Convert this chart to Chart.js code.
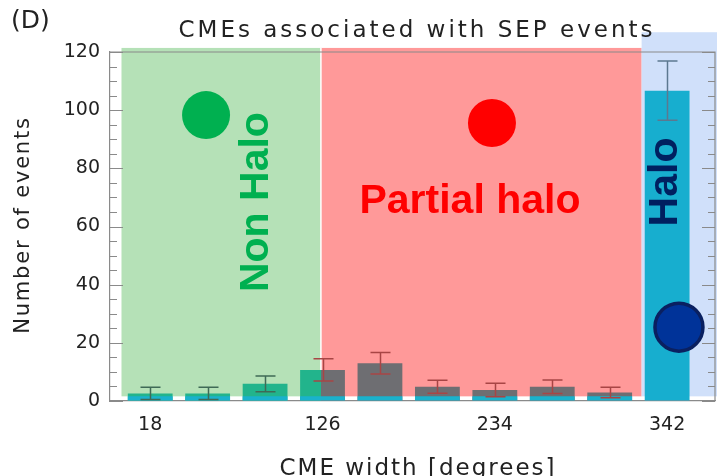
<!DOCTYPE html>
<html>
<head>
<meta charset="utf-8">
<script src="https://cdn.jsdelivr.net/npm/chart.js@4.4.1/dist/chart.umd.min.js"></script>
<style>
html, body { margin: 0; padding: 0; background: #fff; }
#wrap { width: 717px; height: 476px; }
</style>
</head>
<body>
<div id="wrap"><canvas id="chart"></canvas></div>
<script>
// CME width bins (degrees) and SEP-associated event counts
const binCenters = [18, 54, 90, 126, 162, 198, 234, 270, 306, 342]
const eventCounts = [2.6, 2.6, 5.9, 10.7, 13.0, 4.9, 3.8, 4.9, 2.9, 106.7]
const countErrors = [2.1, 2.1, 2.7, 3.8, 3.7, 2.2, 2.3, 2.3, 1.8, 10.2]
const baseCounts = [1.6, 1.6, 1.6, 1.6, 1.6, 1.6, 1.6, 1.6, 1.6, 0]
const xTickValues = [18, 126, 234, 342]
const yTickValues = [0, 20, 40, 60, 80, 100, 120]

const regionNames = ['Non Halo', 'Partial halo', 'Halo']
const regionStart = [0, 125, 326]
const regionEnd = [125, 326, 400]

const FONT = "'DejaVu Sans', sans-serif"
const BOLD = "'Liberation Sans', Arial, sans-serif"

const regionFill = ['rgba(181,225,183,1)', 'rgba(255,153,153,1)', 'rgba(208,224,250,1)']
const barFill = ['#22b48c', '#6e6e72', '#17aecf']
const whiskerColor = ['#3f6a56', '#a84545', '#5c7890']
const barPct = 0.78

function regionOf(v) {
    for (let r = 0; r < regionStart.length; r++) {
        if (v >= regionStart[r] && v < regionEnd[r]) return r
    }
    return regionStart.length - 1
}

// bars that straddle a region border get a hard-stop gradient
function barColor(ctx) {
    const chart = ctx.chart
    const i = ctx.dataIndex
    const c = binCenters[i]
    const half = 36 * barPct / 2
    const lo = c - half, hi = c + half
    const rLo = regionOf(lo), rHi = regionOf(hi)
    if (rLo === rHi || !chart.chartArea) return barFill[regionOf(c)]
    const xs = chart.scales.x
    const x0 = xs.getPixelForValue(lo), x1 = xs.getPixelForValue(hi)
    const g = chart.ctx.createLinearGradient(x0, 0, x1, 0)
    let prev = 0
    for (let r = rLo; r <= rHi; r++) {
        const end = r === rHi ? 1 : (xs.getPixelForValue(regionEnd[r]) - x0) / (x1 - x0)
        g.addColorStop(prev, barFill[r])
        g.addColorStop(end, barFill[r])
        prev = end
    }
    return g
}

const decorPlugin = {
    id: 'decor',
    beforeDatasetsDraw(chart) {
        const {ctx, chartArea: a, scales: {x, y}} = chart
        ctx.save()
        // shaded regions
        const tops = [121.4, 121.4, 126.8]
        for (let r = 0; r < regionNames.length; r++) {
            const x0 = x.getPixelForValue(regionStart[r])
            const x1 = Math.min(chart.width, x.getPixelForValue(regionEnd[r]))
            const y0 = y.getPixelForValue(tops[r])
            const y1 = y.getPixelForValue(1.6)
            ctx.fillStyle = regionFill[r]
            ctx.fillRect(x0, y0, x1 - x0, y1 - y0)
        }
        ctx.strokeStyle = '#ffffff'
        ctx.lineWidth = 1.5
        const xb = x.getPixelForValue(regionEnd[0])
        ctx.beginPath()
        ctx.moveTo(xb, y.getPixelForValue(121.4))
        ctx.lineTo(xb, y.getPixelForValue(1.6))
        ctx.stroke()
        // frame top/right + ticks
        ctx.strokeStyle = '#8a8a8a'
        ctx.lineWidth = 1.2
        ctx.beginPath()
        ctx.moveTo(a.left, a.top)
        ctx.lineTo(a.right, a.top)
        ctx.lineTo(a.right, a.bottom)
        for (let v = 0; v <= 120; v += 5) {
            const py = Math.round(y.getPixelForValue(v)) + 0.5
            const len = v % 20 === 0 ? 13 : 7
            ctx.moveTo(a.left, py)
            ctx.lineTo(a.left + len, py)
            ctx.moveTo(a.right, py)
            ctx.lineTo(a.right - len, py)
        }
        ctx.stroke()
        ctx.restore()
    },
    afterDatasetsDraw(chart) {
        const {ctx, scales: {x, y}} = chart
        const meta = chart.getDatasetMeta(0)
        ctx.save()
        // error bars
        ctx.lineWidth = 1.5
        meta.data.forEach((el, i) => {
            const px = Math.round(el.x) + 0.5
            const yt = y.getPixelForValue(eventCounts[i] + countErrors[i])
            const yb = y.getPixelForValue(Math.max(0, eventCounts[i] - countErrors[i]))
            ctx.strokeStyle = whiskerColor[regionOf(binCenters[i])]
            ctx.beginPath()
            ctx.moveTo(px, yt); ctx.lineTo(px, yb)
            ctx.moveTo(px - 10, yt); ctx.lineTo(px + 10, yt)
            ctx.moveTo(px - 10, yb); ctx.lineTo(px + 10, yb)
            ctx.stroke()
        })

        // region markers
        const dot = (dx, dy, fill, stroke) => {
            ctx.beginPath()
            ctx.arc(x.getPixelForValue(dx), y.getPixelForValue(dy), 24, 0, Math.PI * 2)
            ctx.fillStyle = fill
            ctx.fill()
            if (stroke) { ctx.lineWidth = 3.5; ctx.strokeStyle = stroke; ctx.stroke() }
        }
        dot(53, 98.3, '#00b050')
        dot(232.2, 95.6, '#ff0000')
        dot(349.4, 25.4, '#003399', '#0a2060')

        ctx.textAlign = 'center'
        ctx.textBaseline = 'middle'
        const vlabel = (text, dx, dy, color) => {
            ctx.save()
            ctx.translate(x.getPixelForValue(dx), y.getPixelForValue(dy))
            ctx.rotate(-Math.PI / 2)
            ctx.fillStyle = color
            ctx.font = 'bold 41px ' + BOLD
            ctx.fillText(text, 0, 0)
            ctx.restore()
        }
        vlabel(regionNames[0], 84.9, 68.4, '#00b050')
        vlabel(regionNames[2], 341, 75.3, '#002060')
        ctx.fillStyle = '#ff0000'
        ctx.font = 'bold 41px ' + BOLD
        ctx.fillText(regionNames[1], x.getPixelForValue(218.4), y.getPixelForValue(68.4))

        // titles
        ctx.fillStyle = '#222'
        ctx.font = '23px ' + FONT
        ctx.letterSpacing = '3px'
        ctx.fillText('CMEs associated with SEP events', 417, 31)
        ctx.textAlign = 'left'
        ctx.letterSpacing = '0px'
        ctx.font = '25px ' + FONT
        ctx.fillText('(D)', 11, 21)
        ctx.textAlign = 'center'
        ctx.textBaseline = 'alphabetic'
        ctx.font = '23px ' + FONT
        ctx.letterSpacing = '2px'
        ctx.fillText('CME width [degrees]', 418, 475)
        ctx.textBaseline = 'middle'
        ctx.font = '21px ' + FONT
        ctx.letterSpacing = '1.8px'
        ctx.save()
        ctx.translate(24, 225)
        ctx.rotate(-Math.PI / 2)
        ctx.fillText('Number of events', 0, 0)
        ctx.restore()
        ctx.restore()
    }
}

const ctx = document.getElementById('chart').getContext('2d')
new Chart(ctx, {
    type: 'bar',
    data: {
        datasets: [
            {
                label: 'SEP CMEs',
                data: binCenters.map((c, i) => ({x: c, y: eventCounts[i]})),
                backgroundColor: barColor,
                grouped: false,
                barPercentage: barPct,
                categoryPercentage: 1,
                order: 2
            },
            {
                label: 'base',
                data: binCenters.map((c, i) => ({x: c, y: baseCounts[i]})),
                backgroundColor: '#1ab2cc',
                grouped: false,
                barPercentage: barPct,
                categoryPercentage: 1,
                order: 1
            }
        ]
    },
    options: {
        responsive: true,
        maintainAspectRatio: false,
        animation: false,
        layout: { padding: { top: 52, right: 2, left: 0, bottom: 0 } },
        scales: {
            x: {
                type: 'linear',
                offset: false,
                min: -7.2,
                max: 372,
                grid: { drawOnChartArea: false, drawTicks: false, color: 'rgba(0,0,0,0)' },
                border: { color: '#8a8a8a', width: 1.2 },
                afterBuildTicks: (scale) => { scale.ticks = xTickValues.map(v => ({value: v})) },
                afterFit: (scale) => { scale.height = 75 },
                ticks: {
                    autoSkip: false,
                    maxRotation: 0,
                    padding: 13,
                    color: '#222',
                    font: { family: FONT, size: 19 }
                }
            },
            y: {
                min: 0,
                max: 120,
                grid: { drawOnChartArea: false, drawTicks: false, color: 'rgba(0,0,0,0)' },
                border: { color: '#8a8a8a', width: 1.2 },
                afterBuildTicks: (scale) => { scale.ticks = yTickValues.map(v => ({value: v})) },
                afterFit: (scale) => { scale.width = 110 },
                ticks: {
                    padding: 10,
                    color: '#222',
                    font: { family: FONT, size: 19 }
                }
            }
        },
        plugins: {
            legend: { display: false },
            tooltip: { enabled: false },
            title: { display: false }
        }
    },
    plugins: [decorPlugin]
})
</script>
</body>
</html>
